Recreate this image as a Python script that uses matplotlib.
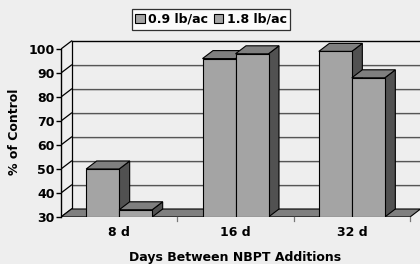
import matplotlib
matplotlib.use("Agg")
import matplotlib.pyplot as plt
from matplotlib.patches import Polygon, Patch

categories = ["8 d", "16 d", "32 d"]
series_names = ["0.9 lb/ac", "1.8 lb/ac"]
low_rate = [50, 96, 99]
high_rate = [33, 98, 88]
yticks = [30, 40, 50, 60, 70, 80, 90, 100]

plt.rcParams['font.family'] = ['DejaVu Sans']
plt.rcParams['font.weight'] = 'bold'

BG = '#eeeeee'
FRONT = '#a4a4a4'
TOP = '#7f7f7f'
SIDE = '#515151'
FLOOR = '#7f7f7f'
FS = 9

W, H = 420, 264
fig = plt.figure(figsize=(W / 100, H / 100), dpi=100, facecolor=BG)

x0px, y0px = 61, 217          # front axis origin in pixels
ppu_x = 349 / 3.0             # pixels per category
ppu_y = 2.4                   # pixels per % unit
top_px = 40
ax = fig.add_axes([x0px / W, (H - y0px) / H, (W - x0px) / W, (y0px - top_px) / H])
ax.set_facecolor(BG)
ax.set_xlim(-0.5, -0.5 + (W - x0px) / ppu_x)
ax.set_ylim(30, 30 + (y0px - top_px) / ppu_y)
for s in ['top', 'right', 'bottom']:
    ax.spines[s].set_visible(False)
ax.spines['left'].set_bounds(30, 100)
ax.spines['left'].set_linewidth(1.0)
ax.set_yticks(yticks)
ax.set_yticklabels([str(t) for t in yticks], fontsize=FS, fontweight='bold')
ax.tick_params(axis='y', length=3.5, width=1.0, pad=1)
ax.set_xticks([])

dx = 10.5 / ppu_x
dy = 8 / ppu_y
xmin, xmax = -0.5, 2.5
xright = ax.get_xlim()[1] + 1

# back wall gridlines and tick connectors
for t in yticks:
    ax.plot([xmin, xmin + dx], [t, t + dy], color='black', lw=0.9, zorder=2)
    if t > 30:
        col = 'black' if t == 100 else '#555555'
        ax.plot([xmin + dx, xright], [t + dy, t + dy], color=col, lw=1.0 if t == 100 else 0.9, zorder=2)
        if t < 100:
            ax.plot([xmin + dx, xright], [t + dy - 0.45, t + dy - 0.45], color='#c8c8c8', lw=0.6, zorder=1.9)
ax.plot([xmin + dx, xmin + dx], [30 + dy, 100 + dy], color='black', lw=0.9, zorder=2)

# floor
floor = Polygon([(xmin, 30), (xmax, 30), (xmax + dx, 30 + dy), (xmin + dx, 30 + dy)],
                closed=True, facecolor=FLOOR, edgecolor='black', lw=0.8, zorder=3)
ax.add_patch(floor)

# category boundary ticks
for b in [0.5, 1.5, 2.5]:
    ax.plot([b, b], [30, 30 - 4 / ppu_y], color='#777777', lw=0.9, zorder=3, clip_on=False)

bw = 33 / ppu_x

def bar3d(xl, val):
    xr = xl + bw
    front = Polygon([(xl, 30), (xr, 30), (xr, val), (xl, val)], closed=True,
                    facecolor=FRONT, edgecolor='black', lw=0.8, zorder=5)
    top = Polygon([(xl, val), (xr, val), (xr + dx, val + dy), (xl + dx, val + dy)], closed=True,
                  facecolor=TOP, edgecolor='black', lw=0.8, zorder=5)
    side = Polygon([(xr, 30), (xr + dx, 30 + dy), (xr + dx, val + dy), (xr, val)], closed=True,
                   facecolor=SIDE, edgecolor='black', lw=0.8, zorder=5)
    for p in (side, top, front):
        ax.add_patch(p)

for i in range(len(categories)):
    bar3d(i - bw, low_rate[i])
    bar3d(i, high_rate[i])

# category labels
for i, c in enumerate(categories):
    ax.text(i, 30 - 16 / ppu_y, c, ha='center', va='center', fontsize=FS,
            fontweight='bold', clip_on=False)

fig.text(235 / W, 1 - 257 / H, "Days Between NBPT Additions", ha='center', va='center',
         fontsize=FS, fontweight='bold')
fig.text(15 / W, 1 - 132 / H, "% of Control", ha='center', va='center', rotation=90,
         fontsize=FS, fontweight='bold')

handles = [Patch(facecolor=FRONT, edgecolor='black', lw=0.8) for _ in series_names]
leg = fig.legend(handles, series_names, loc='center', bbox_to_anchor=(211 / W, 1 - 19.5 / H),
                 ncol=2, frameon=True, fancybox=False, edgecolor='black', facecolor='white',
                 fontsize=FS, handlelength=0.75, handleheight=0.75, handletextpad=0.3,
                 columnspacing=0.4, borderpad=0.3, borderaxespad=0)
leg.get_frame().set_linewidth(0.9)
for t in leg.get_texts():
    t.set_fontweight('bold')

fig.savefig("out.png", dpi=100, facecolor=BG)
